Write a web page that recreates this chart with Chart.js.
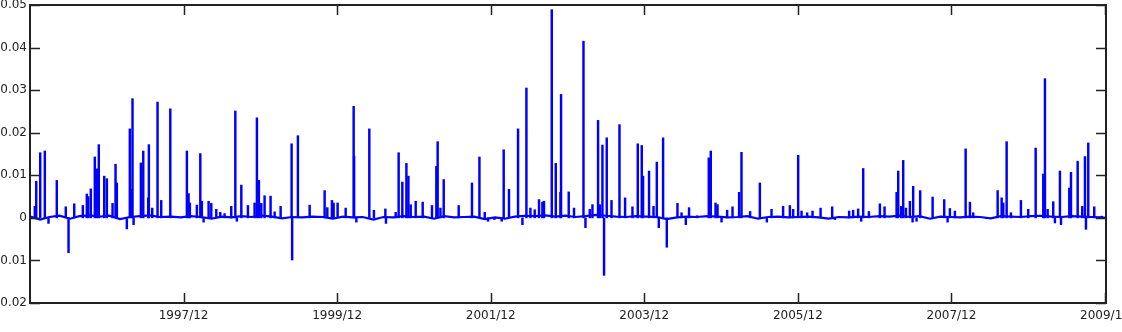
<!DOCTYPE html>
<html>
<head>
<meta charset="utf-8">
<script src="https://cdn.jsdelivr.net/npm/chart.js@4"></script>
<style>
  html, body { margin: 0; padding: 0; background: #fff; }
</style>
</head>
<body>
<canvas id="spikes" width="1122" height="332"></canvas>
<script>
// spikes: decimal year, value
const spikeYears = [
  1995.980, 1995.998, 1996.050, 1996.110, 1996.158, 1996.266, 1996.383, 1996.419, 1996.493, 1996.605,
  1996.657, 1996.675, 1996.709, 1996.761, 1996.787, 1996.813, 1996.884, 1996.918, 1996.992, 1997.031,
  1997.048, 1997.178, 1997.217, 1997.239, 1997.252, 1997.266, 1997.361, 1997.392, 1997.457, 1997.465,
  1997.509, 1997.578, 1997.626, 1997.744, 1997.960, 1997.982, 1997.999, 1998.090, 1998.135, 1998.155,
  1998.178, 1998.243, 1998.278, 1998.343, 1998.395, 1998.451, 1998.538, 1998.591, 1998.611, 1998.669,
  1998.755, 1998.842, 1998.872, 1998.898, 1998.929, 1998.972, 1999.050, 1999.103, 1999.181, 1999.324,
  1999.331, 1999.406, 1999.559, 1999.754, 1999.789, 1999.849, 1999.871, 1999.923, 2000.028, 2000.132,
  2000.138, 2000.167, 2000.336, 2000.396, 2000.545, 2000.553, 2000.679, 2000.718, 2000.766, 2000.819,
  2000.845, 2000.875, 2000.940, 2001.031, 2001.152, 2001.209, 2001.226, 2001.262, 2001.305, 2001.500,
  2001.673, 2001.770, 2001.839, 2001.882, 2001.965, 2002.060, 2002.086, 2002.155, 2002.273, 2002.330,
  2002.382, 2002.434, 2002.490, 2002.546, 2002.590, 2002.611, 2002.712, 2002.764, 2002.825, 2002.833,
  2002.933, 2003.002, 2003.125, 2003.151, 2003.207, 2003.242, 2003.315, 2003.337, 2003.372, 2003.393,
  2003.428, 2003.490, 2003.594, 2003.667, 2003.763, 2003.832, 2003.884, 2003.901, 2003.979, 2004.037,
  2004.080, 2004.106, 2004.162, 2004.210, 2004.349, 2004.402, 2004.458, 2004.500, 2004.605, 2004.757,
  2004.783, 2004.845, 2004.871, 2004.923, 2004.996, 2005.066, 2005.152, 2005.183, 2005.295, 2005.422,
  2005.513, 2005.574, 2005.725, 2005.813, 2005.856, 2005.921, 2005.965, 2006.038, 2006.108, 2006.213,
  2006.364, 2006.399, 2006.585, 2006.637, 2006.702, 2006.742, 2006.768, 2006.842, 2006.985, 2007.046,
  2007.203, 2007.224, 2007.263, 2007.289, 2007.324, 2007.376, 2007.411, 2007.419, 2007.463, 2007.510,
  2007.672, 2007.823, 2007.867, 2007.897, 2007.962, 2008.102, 2008.158, 2008.201, 2008.375, 2008.519,
  2008.571, 2008.592, 2008.636, 2008.692, 2008.822, 2008.917, 2009.014, 2009.113, 2009.135, 2009.170,
  2009.243, 2009.265, 2009.330, 2009.344, 2009.452, 2009.474, 2009.561, 2009.621, 2009.656, 2009.669,
  2009.699, 2009.777, 2009.874
];
const spikeValues = [
  0.0027, 0.0086, 0.0153, 0.0157, -0.0013, 0.0088, 0.0026, -0.0082, 0.0033, 0.0029,
  0.0056, 0.0050, 0.0068, 0.0143, 0.0115, 0.0172, 0.0098, 0.0092, 0.0034, 0.0126,
  0.0082, -0.0026, 0.0209, 0.0067, 0.0280, -0.0016, 0.0129, 0.0157, 0.0047, 0.0172,
  0.0023, 0.0272, 0.0041, 0.0256, 0.0157, 0.0057, 0.0035, 0.0030, 0.0151, 0.0039,
  -0.0010, 0.0039, 0.0034, 0.0020, 0.0013, 0.0010, 0.0027, 0.0251, -0.0008, 0.0077,
  0.0029, 0.0035, 0.0235, 0.0088, 0.0034, 0.0052, 0.0051, 0.0014, 0.0027, 0.0174,
  -0.0099, 0.0193, 0.0030, 0.0064, 0.0024, 0.0041, 0.0035, 0.0035, 0.0023, 0.0262,
  0.0145, -0.0010, 0.0209, 0.0018, 0.0021, -0.0013, 0.0013, 0.0153, 0.0084, 0.0128,
  0.0098, 0.0031, 0.0039, 0.0037, 0.0029, 0.0121, 0.0179, 0.0023, 0.0090, 0.0029,
  0.0082, 0.0143, 0.0013, -0.0008, -0.0004, -0.0008, 0.0160, 0.0067, 0.0209, -0.0016,
  0.0305, 0.0023, 0.0019, 0.0043, 0.0037, 0.0039, 0.0489, 0.0128, 0.0060, 0.0290,
  0.0061, 0.0023, 0.0415, -0.0023, 0.0020, 0.0031, 0.0229, 0.0031, 0.0171, -0.0135,
  0.0188, 0.0041, 0.0219, 0.0047, 0.0026, 0.0174, 0.0170, 0.0098, 0.0110, 0.0027,
  0.0131, -0.0023, 0.0188, -0.0069, 0.0034, 0.0012, -0.0016, 0.0024, 0.0005, 0.0141,
  0.0157, 0.0035, 0.0031, -0.0010, 0.0018, 0.0026, 0.0060, 0.0154, 0.0015, 0.0082,
  -0.0010, 0.0020, 0.0027, 0.0029, 0.0020, 0.0147, 0.0016, 0.0012, 0.0016, 0.0023,
  0.0026, -0.0004, 0.0016, 0.0018, 0.0021, -0.0008, 0.0116, 0.0015, 0.0033, 0.0026,
  0.0060, 0.0110, 0.0027, 0.0135, 0.0023, 0.0039, -0.0010, 0.0074, -0.0008, 0.0064,
  0.0049, 0.0043, -0.0010, 0.0022, 0.0016, 0.0162, 0.0037, 0.0012, -0.0002, 0.0064,
  0.0047, 0.0035, 0.0179, 0.0012, 0.0041, 0.0020, 0.0164, 0.0103, 0.0327, 0.0020,
  0.0038, -0.0012, 0.0110, -0.0016, 0.0070, 0.0107, 0.0133, 0.0027, 0.0144, -0.0027,
  0.0176, 0.0026, 0.0004
];

// quiet days along zero
const baseYears = [
  1995.92, 1996.05, 1996.17, 1996.30, 1996.44, 1996.56, 1996.70, 1996.83, 1996.95, 1997.09, 1997.22, 1997.35,
  1997.48, 1997.61, 1997.75, 1997.88, 1998.01, 1998.14, 1998.28, 1998.41, 1998.54, 1998.67, 1998.80, 1998.94,
  1999.07, 1999.20, 1999.33, 1999.46, 1999.60, 1999.73, 1999.86, 1999.99, 2000.12, 2000.25, 2000.39, 2000.52,
  2000.65, 2000.78, 2000.91, 2001.05, 2001.18, 2001.31, 2001.44, 2001.57, 2001.70, 2001.84, 2001.97, 2002.10,
  2002.23, 2002.36, 2002.50, 2002.63, 2002.76, 2002.89, 2003.02, 2003.15, 2003.29, 2003.42, 2003.55, 2003.68,
  2003.81, 2003.95, 2004.08, 2004.21, 2004.34, 2004.47, 2004.60, 2004.74, 2004.87, 2005.00, 2005.13, 2005.26,
  2005.40, 2005.53, 2005.66, 2005.79, 2005.92, 2006.05, 2006.19, 2006.32, 2006.45, 2006.58, 2006.71, 2006.84,
  2006.98, 2007.11, 2007.24, 2007.37, 2007.50, 2007.64, 2007.77, 2007.90, 2008.03, 2008.16, 2008.29, 2008.43,
  2008.56, 2008.69, 2008.82, 2008.95, 2009.08, 2009.22, 2009.35, 2009.48, 2009.61, 2009.74, 2009.87, 2009.93
];
const baseValues = [
  0.0003, -0.0004, 0.0002, 0.0005, -0.0002, 0.0004, 0.0006, 0.0003, 0.0005, -0.0003, 0.0002, 0.0004,
  0.0006, 0.0002, 0.0003, 0.0001, 0.0004, 0.0002, -0.0002, 0.0003, 0.0001, 0.0004, 0.0002, 0.0005,
  0.0003, -0.0001, 0.0002, 0.0001, 0.0003, 0.0002, -0.0002, 0.0003, 0.0001, 0.0002, -0.0004, 0.0002,
  0.0001, 0.0004, 0.0002, 0.0003, -0.0002, 0.0004, 0.0001, 0.0002, 0.0003, -0.0003, 0.0001, -0.0002,
  0.0003, 0.0005, 0.0004, 0.0006, 0.0003, 0.0005, 0.0002, 0.0004, 0.0007, 0.0005, 0.0003, 0.0002,
  0.0004, 0.0003, 0.0002, -0.0003, 0.0001, 0.0003, 0.0002, 0.0004, 0.0003, 0.0001, 0.0002, 0.0004,
  -0.0002, 0.0002, 0.0003, 0.0001, 0.0002, 0.0003, 0.0001, -0.0002, 0.0002, 0.0001, 0.0003, 0.0002,
  0.0004, 0.0003, 0.0005, 0.0002, 0.0004, -0.0002, 0.0003, 0.0002, 0.0001, 0.0003, 0.0002, -0.0001,
  0.0004, 0.0003, 0.0002, 0.0004, 0.0005, 0.0003, 0.0002, 0.0004, 0.0003, 0.0002, 0.0001, 0.0000
];

const xTickYears = [1997.917, 1999.917, 2001.917, 2003.917, 2005.917, 2007.917, 2009.917];
const xTickLabels = ["1997/12", "1999/12", "2001/12", "2003/12", "2005/12", "2007/12", "2009/12"];
const yTickValues = [0.05, 0.04, 0.03, 0.02, 0.01, 0, -0.01, -0.02];

const blue = "#0000ff";
const axisColor = "#222";

// matlab style box with ticks pointing inwards
const boxPlugin = {
  id: "box",
  afterDatasetsDraw(chart) {
    const { ctx, chartArea: a, scales } = chart;
    ctx.save();
    ctx.strokeStyle = axisColor;
    ctx.lineWidth = 1.5;
    ctx.beginPath();
    scales.x.ticks.forEach((t) => {
      const px = Math.round(scales.x.getPixelForValue(t.value)) + 0.5;
      ctx.moveTo(px, a.bottom);
      ctx.lineTo(px, a.bottom - 10);
      ctx.moveTo(px, a.top);
      ctx.lineTo(px, a.top + 10);
    });
    scales.y.ticks.forEach((t) => {
      const py = Math.round(scales.y.getPixelForValue(t.value)) + 0.5;
      ctx.moveTo(a.left, py);
      ctx.lineTo(a.left + 10, py);
      ctx.moveTo(a.right, py);
      ctx.lineTo(a.right - 10, py);
    });
    ctx.stroke();
    ctx.lineWidth = 2;
    ctx.strokeRect(a.left, a.top, a.right - a.left, a.bottom - a.top);
    ctx.restore();
  },
};

const ctx = document.getElementById("spikes");

new Chart(ctx, {
  type: "bar",
  data: {
    datasets: [
      {
        type: "line",
        data: baseYears.map((x, i) => ({ x: x, y: baseValues[i] })),
        borderColor: blue,
        borderWidth: 2.2,
        pointRadius: 0,
        tension: 0,
      },
      {
        type: "bar",
        data: spikeYears.map((x, i) => ({ x: x, y: spikeValues[i] })),
        backgroundColor: blue,
        borderWidth: 0,
        barThickness: 1.8,
        grouped: false,
      },
    ],
  },
  plugins: [boxPlugin],
  options: {
    responsive: false,
    animation: false,
    devicePixelRatio: 1,
    layout: { padding: { top: 5, right: 16, left: 0, bottom: 0 } },
    plugins: { legend: { display: false }, tooltip: { enabled: false } },
    scales: {
      x: {
        type: "linear",
        offset: false,
        min: 1995.917,
        max: 2009.93,
        grid: { display: false, drawTicks: false },
        border: { display: false },
        afterBuildTicks: (scale) => {
          scale.ticks = xTickYears.map((v) => ({ value: v }));
        },
        afterFit: (scale) => {
          scale.height = 29;
          scale.paddingLeft = 0;
          scale.paddingRight = 0;
        },
        ticks: {
          autoSkip: false,
          maxRotation: 0,
          padding: 6,
          color: axisColor,
          font: { family: "DejaVu Sans", size: 12 },
          callback: (v, i) => xTickLabels[i],
        },
      },
      y: {
        min: -0.02,
        max: 0.05,
        grid: { display: false, drawTicks: false },
        border: { display: false },
        afterBuildTicks: (scale) => {
          scale.ticks = yTickValues.map((v) => ({ value: v }));
        },
        afterFit: (scale) => {
          scale.width = 30;
          scale.paddingTop = 0;
          scale.paddingBottom = 0;
        },
        ticks: {
          padding: 3,
          color: axisColor,
          font: { family: "DejaVu Sans", size: 12 },
          callback: (v) => (v === 0 ? "0" : v.toFixed(2)),
        },
      },
    },
  },
});
</script>
</body>
</html>
